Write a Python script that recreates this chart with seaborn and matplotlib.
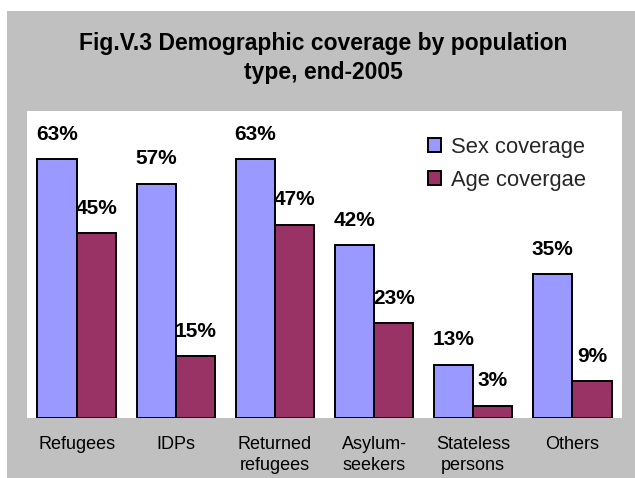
import matplotlib
matplotlib.use("Agg")
import matplotlib.pyplot as plt
from matplotlib.patches import Rectangle, Patch
import seaborn as sns
import pandas as pd

categories = ["Refugees", "IDPs", "Returned\nrefugees", "Asylum-\nseekers", "Stateless\npersons", "Others"]
sex_coverage = [63, 57, 63, 42, 13, 35]
age_coverage = [45, 15, 47, 23, 3, 9]
series_names = ["Sex coverage", "Age covergae"]
colors = ["#9999FF", "#993366"]
title = "Fig.V.3 Demographic coverage by population\ntype, end-2005"

df = pd.DataFrame({
    "category": categories * 2,
    "series": [series_names[0]] * len(categories) + [series_names[1]] * len(categories),
    "value": sex_coverage + age_coverage,
})

sns.set_style("white")
plt.rcParams["font.family"] = ["Liberation Sans", "DejaVu Sans"]

W, H = 635, 478
fig = plt.figure(figsize=(W / 100, H / 100), dpi=100)
fig.patch.set_facecolor("white")
fig.patches.append(Rectangle((7 / W, 0), 1 - 7 / W, 1 - 11 / H, transform=fig.transFigure,
                             facecolor="#C0C0C0", edgecolor="none", zorder=-5))

ax = fig.add_axes([27 / W, (H - 418) / H, 595 / W, 307 / H])
ax.set_zorder(1)
ax.set_facecolor("white")

sns.barplot(data=df, x="category", y="value", hue="series", order=categories,
            hue_order=series_names, palette=colors, width=0.79, saturation=1,
            edgecolor="black", linewidth=1.4, ax=ax, legend=False)

ax.set_xlim(-0.5, len(categories) - 0.5)
ax.set_ylim(0, 74.7)
for s in ax.spines.values():
    s.set_visible(False)
ax.set_yticks([])
ax.set_xlabel("")
ax.set_ylabel("")
ax.tick_params(axis="x", length=0, pad=13, labelsize=13, colors="black")
for lbl in ax.get_xticklabels():
    lbl.set_linespacing(1.3)

for bar in ax.patches:
    h = bar.get_height()
    if h is None or bar.get_width() == 0:
        continue
    ax.annotate(f"{int(round(h))}%", (bar.get_x() + bar.get_width() / 2, h),
                xytext=(0, 14), textcoords="offset points", ha="center", va="baseline",
                fontsize=15, fontweight="bold", color="black")

handles = [Patch(facecolor=c, edgecolor="black", linewidth=1.4, label=n) for c, n in zip(colors, series_names)]
ax.legend(handles=handles, loc="upper left", bbox_to_anchor=(428 / W, 1 - 137 / H),
          bbox_transform=fig.transFigure, frameon=False, fontsize=15.8,
          handlelength=0.6, handleheight=0.6, handletextpad=0.45, labelspacing=0.55,
          borderpad=0, borderaxespad=0)

fig.text(323 / W, 1 - 79 / H, title, ha="center", va="baseline", fontsize=16.5,
         fontweight="bold", linespacing=1.35, color="black")

fig.savefig("out.png", dpi=100)
